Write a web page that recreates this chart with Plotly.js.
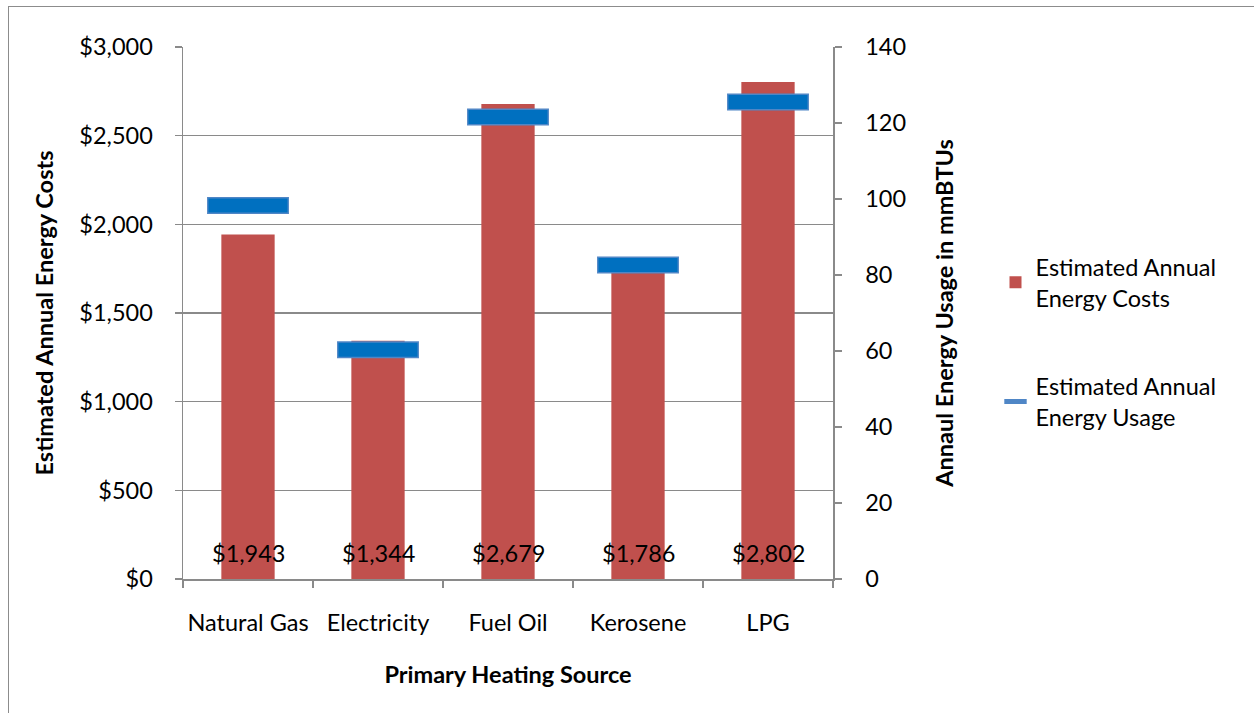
<!DOCTYPE html>
<html>
<head>
<meta charset="utf-8">
<script src="https://cdn.plot.ly/plotly-3.0.1.min.js"></script>
<style>
  html, body { margin: 0; padding: 0; background: #ffffff; }
  #wrap { position: relative; width: 1254px; height: 713px; overflow: hidden; }
  #chart { position: absolute; left: 0; top: 0; width: 1254px; height: 713px; }
  #frame { position: absolute; left: 8px; top: 6px; width: 1260px; height: 720px;
           border: 1.5px solid #8c8c8c; box-sizing: border-box; pointer-events: none; }
</style>
</head>
<body>
<div id="wrap">
  <div id="chart"></div>
  <div id="frame"></div>
</div>
<script>
// Primary heating sources and their estimated annual costs / usage
const sources = ['Natural Gas', 'Electricity', 'Fuel Oil', 'Kerosene', 'LPG'];
const annualCosts = [1943, 1344, 2679, 1786, 2802];           // US dollars
const annualUsage = [98.3, 60.3, 121.6, 82.6, 125.5];        // mmBTUs

const costLabels = annualCosts.map(v => '$' + v.toLocaleString('en-US'));

const FONT = 'Lato, "Open Sans", "DejaVu Sans", sans-serif';
const GRID = '#8a8a8a';
const FS = 23.5;

const costTrace = {
  type: 'bar',
  name: 'Estimated Annual<br>Energy Costs',
  x: sources,
  y: annualCosts,
  width: 0.41,
  marker: { color: '#C0504D', line: { width: 0 } },
  legendgroup: 'costs',
  hoverinfo: 'x+y'
};

// Usage drawn as wide horizontal dashes on the secondary axis
const usageOuter = {
  type: 'scatter',
  mode: 'markers',
  name: 'Estimated Annual<br>Energy Usage',
  x: sources,
  y: annualUsage,
  yaxis: 'y2',
  marker: { symbol: 'line-ew', size: 58.5, color: '#4F86C6',
            line: { width: 17, color: '#4F86C6' } },
  legendgroup: 'usage',
  hoverinfo: 'x+y'
};
const usageInner = {
  type: 'scatter',
  mode: 'markers',
  name: 'Estimated Annual<br>Energy Usage',
  x: sources,
  y: annualUsage,
  yaxis: 'y2',
  marker: { symbol: 'line-ew', size: 56.5, color: '#0070C0',
            line: { width: 14, color: '#0070C0' } },
  legendgroup: 'usage',
  showlegend: false,
  hoverinfo: 'skip'
};

// Value labels near the foot of each bar
const valueNotes = sources.map((s, i) => ({
  x: s, y: 0, xref: 'x', yref: 'y',
  text: costLabels[i],
  showarrow: false,
  yanchor: 'middle',
  yshift: 26,
  font: { family: FONT, size: FS, color: '#000000' }
}));

const layout = {
  width: 1254,
  height: 713,
  margin: { l: 183, r: 421, t: 47, b: 134 },
  paper_bgcolor: '#ffffff',
  plot_bgcolor: '#ffffff',
  font: { family: FONT, size: FS, color: '#000000' },
  showlegend: true,
  xaxis: {
    type: 'category',
    range: [-0.5, sources.length - 0.5],
    showline: true, linecolor: GRID, linewidth: 1.5,
    ticks: 'outside', tickson: 'boundaries', ticklen: 7, tickcolor: GRID, tickwidth: 1.5,
    tickangle: 0,
    ticklabelstandoff: 22,
    showgrid: false,
    tickfont: { family: FONT, size: FS },
    title: { text: 'Primary Heating Source', font: { family: FONT, size: FS, weight: 'bold' }, standoff: 32 }
  },
  yaxis: {
    range: [0, 3000], dtick: 500, tickprefix: '$', tickformat: ',d',
    showline: true, linecolor: GRID, linewidth: 1.5,
    ticks: 'outside', ticklen: 7, tickcolor: GRID, tickwidth: 1.5,
    ticklabelstandoff: 17,
    showgrid: true, gridcolor: GRID, gridwidth: 1.5,
    zeroline: false,
    tickfont: { family: FONT, size: FS },
    title: { text: 'Estimated Annual Energy Costs', font: { family: FONT, size: FS, weight: 'bold' }, standoff: 19 }
  },
  yaxis2: {
    overlaying: 'y', side: 'right',
    range: [0, 140], dtick: 20,
    showline: true, linecolor: GRID, linewidth: 1.5,
    ticks: 'outside', ticklen: 7, tickcolor: GRID, tickwidth: 1.5,
    ticklabelstandoff: 19,
    showgrid: false, zeroline: false,
    tickfont: { family: FONT, size: FS },
    title: { text: 'Annaul Energy Usage in mmBTUs', font: { family: FONT, size: FS, weight: 'bold' }, standoff: 31 }
  },
  legend: {
    x: 1.25, xanchor: 'left',
    y: 0.445, yanchor: 'middle',
    traceorder: 'grouped',
    tracegroupgap: 55,
    font: { family: FONT, size: FS },
    bgcolor: 'rgba(0,0,0,0)'
  },
  annotations: valueNotes
};

Plotly.newPlot('chart', [costTrace, usageOuter, usageInner], layout, { displayModeBar: false, staticPlot: true });
</script>
</body>
</html>
